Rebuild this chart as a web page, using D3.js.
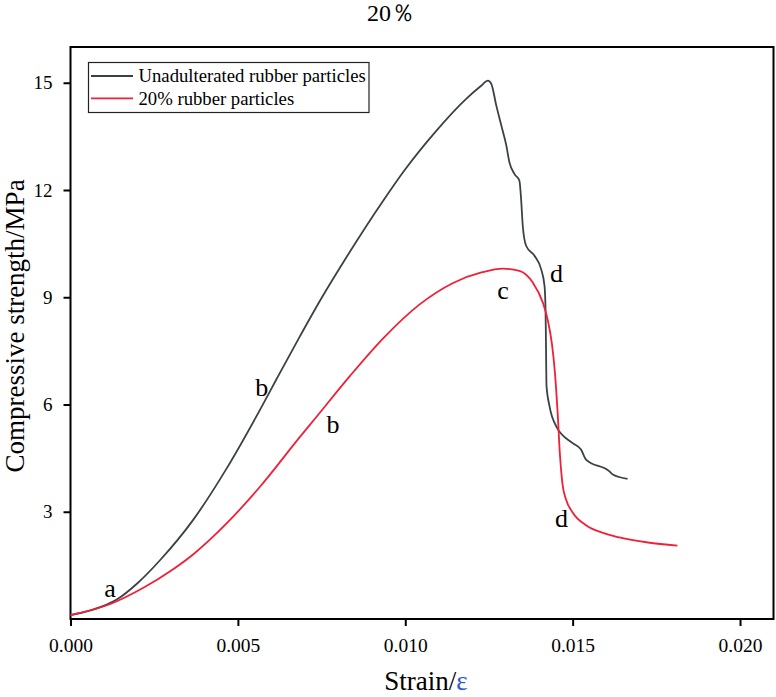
<!DOCTYPE html>
<html>
<head>
<meta charset="utf-8">
<script src="https://cdn.jsdelivr.net/npm/d3@7"></script>
<style>
  body { margin: 0; background: #fff; }
  svg text { font-family: "Liberation Serif", "Times New Roman", serif; }
</style>
</head>
<body>
<div id="chart"></div>
<script>
// data
var plainStrain = [0, 0.0006, 0.00119, 0.00139, 0.0020, 0.00268, 0.00367, 0.00467, 0.00566, 0.00616,
  0.00686, 0.0075, 0.00815, 0.00934, 0.0100, 0.01083, 0.01182, 0.01225, 0.01247, 0.01257,
  0.01272, 0.01287, 0.01302, 0.01311, 0.01326, 0.01341, 0.01346, 0.01351, 0.01361, 0.01386,
  0.01406, 0.01416, 0.01419, 0.01420, 0.01422, 0.01431, 0.01451, 0.0150, 0.01525, 0.0154,
  0.0161, 0.0162, 0.01664];
var plainStress = [0.11, 0.24, 0.45, 0.55, 1.0, 1.65, 2.78, 4.22, 5.85, 6.72,
  7.92, 8.98, 9.98, 11.70, 12.58, 13.55, 14.55, 14.90, 15.06, 14.97,
  14.36, 13.80, 13.24, 12.78, 12.45, 12.26, 11.75, 11.00, 10.44, 10.16,
  9.78, 9.32, 8.66, 8.0, 6.51, 5.95, 5.39, 4.92, 4.74, 4.46,
  4.13, 4.04, 3.92];

var rubberStrain = [0, 0.00119, 0.00219, 0.0030, 0.00368, 0.00467, 0.00566, 0.00686, 0.0073, 0.00835, 0.00934,
  0.01043, 0.01143, 0.01230, 0.01292, 0.01341, 0.01381, 0.01411, 0.01426, 0.01438, 0.01447,
  0.01455, 0.01462, 0.01470, 0.0148, 0.0150, 0.0154, 0.0160, 0.0164, 0.01725, 0.01813];
var rubberStress = [0.11, 0.42, 0.88, 1.35, 1.82, 2.68, 3.70, 5.10, 5.60, 6.80, 7.85,
  8.80, 9.40, 9.70, 9.80, 9.74, 9.41, 8.85, 8.35, 7.70, 6.90,
  5.80, 4.60, 3.75, 3.35, 2.98, 2.62, 2.38, 2.28, 2.14, 2.05];

var seriesNames = ["Unadulterated rubber particles", "20% rubber particles"];
var xTicks = [0, 0.005, 0.010, 0.015, 0.020];
var yTicks = [3, 6, 9, 12, 15];

// stage letters placed on the curves
var stageText = ["a", "b", "b", "c", "d", "d"];
var stageX = [0.00118, 0.00571, 0.00784, 0.01292, 0.01452, 0.01467];
var stageY = [0.62, 6.24, 5.20, 8.95, 9.43, 2.57];

var width = 776, height = 697;
var colors = ["#3b4247", "#ef2038"];
var serif = "'Liberation Serif', 'Times New Roman', serif";

var svg = d3.select("#chart").append("svg")
  .attr("width", width)
  .attr("height", height);

var x = d3.scaleLinear().domain([0, 0.021]).range([70.5, 773.5]);
var y = d3.scaleLinear().domain([0, 16]).range([619, 47]);

// x axis
var xAxis = svg.append("g")
  .attr("transform", "translate(0," + y(0) + ")")
  .call(d3.axisBottom(x).tickValues(xTicks).tickFormat(d3.format(".3f")).tickSize(7).tickSizeOuter(0).tickPadding(12));
xAxis.attr("font-family", null);
xAxis.select(".domain").remove();
xAxis.selectAll("line").attr("stroke", "#000").attr("stroke-width", 2);
xAxis.selectAll("text").style("font-family", serif).style("font-size", "19.5px").attr("fill", "#000");

// y axis
var yAxis = svg.append("g")
  .attr("transform", "translate(" + x(0) + ",0)")
  .call(d3.axisLeft(y).tickValues(yTicks).tickSize(7).tickSizeOuter(0).tickPadding(11));
yAxis.attr("font-family", null);
yAxis.select(".domain").remove();
yAxis.selectAll("line").attr("stroke", "#000").attr("stroke-width", 2);
yAxis.selectAll("text").style("font-family", serif).style("font-size", "19px").attr("fill", "#000");

// frame
svg.append("rect")
  .attr("x", x(0))
  .attr("y", y(16))
  .attr("width", x(0.021) - x(0))
  .attr("height", y(0) - y(16))
  .attr("fill", "none")
  .attr("stroke", "#000")
  .attr("stroke-width", 2);

// curves
var line = d3.line()
  .x(function(d) { return x(d[0]); })
  .y(function(d) { return y(d[1]); })
  .curve(d3.curveMonotoneX);

var series = [d3.zip(plainStrain, plainStress), d3.zip(rubberStrain, rubberStress)];

svg.append("g").selectAll("path")
  .data(series)
  .enter().append("path")
  .attr("d", line)
  .attr("fill", "none")
  .attr("stroke", function(d, i) { return colors[i]; })
  .attr("stroke-width", 1.8);

// stage letters
svg.append("g").selectAll("text")
  .data(stageText)
  .enter().append("text")
  .attr("x", function(d, i) { return x(stageX[i]); })
  .attr("y", function(d, i) { return y(stageY[i]); })
  .attr("text-anchor", "middle")
  .style("font-size", "26px")
  .attr("fill", "#000")
  .text(function(d) { return d; });

// legend
var legend = svg.append("g");
legend.append("rect")
  .attr("x", 88.5).attr("y", 62.5)
  .attr("width", 280.5).attr("height", 50)
  .attr("fill", "#fff")
  .attr("stroke", "#222")
  .attr("stroke-width", 1.2);

var rows = legend.selectAll(".row")
  .data(seriesNames)
  .enter().append("g")
  .attr("transform", function(d, i) { return "translate(0," + (76 + i * 22.3) + ")"; });

rows.append("line")
  .attr("x1", 91).attr("x2", 133)
  .attr("stroke", function(d, i) { return colors[i]; })
  .attr("stroke-width", 1.8);

rows.append("text")
  .attr("x", 138.5)
  .attr("y", 6.3)
  .style("font-size", "18.7px")
  .attr("fill", "#000")
  .text(function(d) { return d; });

// title
svg.append("text")
  .attr("x", 391)
  .attr("y", 21)
  .attr("text-anchor", "middle")
  .style("font-size", "24px")
  .text("20％");

// axis titles
svg.append("text")
  .attr("transform", "translate(24,326) rotate(-90)")
  .attr("text-anchor", "middle")
  .style("font-size", "27px")
  .text("Compressive strength/MPa");

var xt = svg.append("text")
  .attr("x", 426)
  .attr("y", 690)
  .attr("text-anchor", "middle")
  .style("font-size", "27px");
xt.append("tspan").text("Strain/");
xt.append("tspan").attr("fill", "#2d55d6").text("ε");
</script>
</body>
</html>
